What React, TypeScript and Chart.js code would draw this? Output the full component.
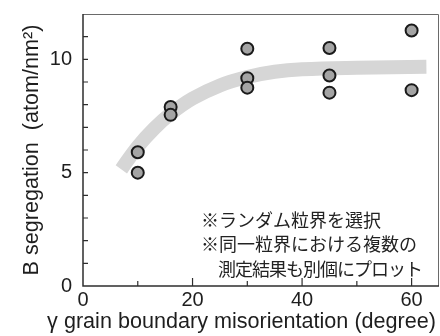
import { useEffect, useRef } from 'react';
import { Chart, registerables } from 'chart.js';

Chart.register(...registerables);

// Measured points (misorientation angle in degrees, B segregation in atom/nm²)
const angleDeg = [10, 10, 16, 16, 30, 30, 30, 45, 45, 45, 60, 60];
const segregation = [5.9, 5.0, 7.9, 7.55, 10.47, 9.17, 8.75, 10.5, 9.29, 8.53, 11.27, 8.64];

// Hand-drawn grey guide band
const trendAngle = [7, 10, 13, 16, 20, 25, 30, 35, 40, 50, 62.7];
const trendValue = [5.15, 6.15, 6.95, 7.6, 8.27, 8.85, 9.22, 9.45, 9.56, 9.63, 9.67];

const xTickLabels = [0, 20, 40, 60];
const yTickLabels = [0, 5, 10];

const xTitle = 'γ grain boundary misorientation (degree)';
const yTitle = 'B segregation  (atom/nm²)';
const noteLines = ['※ランダム粒界を選択', '※同一粒界における複数の', '　測定結果も別個にプロット'];

const LATIN = "'Liberation Sans', Arial, Helvetica, sans-serif";
const CJK = "'Noto Sans CJK JP', 'Noto Sans CJK SC', sans-serif";

const framePlugin = {
  id: 'frameTicks',
  beforeDatasetsDraw(chart: any) {
    const { ctx, chartArea: a, scales } = chart;
    const x = scales.x;
    const y = scales.y;
    ctx.save();
    // top & right frame
    ctx.strokeStyle = '#6a6a6a';
    ctx.lineWidth = 1;
    ctx.beginPath();
    ctx.moveTo(a.left, a.top + 0.5);
    ctx.lineTo(a.right - 0.5, a.top + 0.5);
    ctx.lineTo(a.right - 0.5, a.bottom);
    ctx.stroke();
    // left & bottom axes
    ctx.strokeStyle = '#2e2e2e';
    ctx.lineWidth = 1.5;
    ctx.beginPath();
    ctx.moveTo(a.left, a.top);
    ctx.lineTo(a.left, a.bottom);
    ctx.lineTo(a.right, a.bottom);
    ctx.stroke();
    // inward tick marks
    ctx.lineWidth = 1.2;
    ctx.beginPath();
    x.ticks.forEach((t: any) => {
      const v = t.value;
      if (v <= 0 || v % 10 !== 0) return;
      const px = x.getPixelForValue(v);
      const len = v % 20 === 0 ? 8 : 5;
      ctx.moveTo(px, a.bottom);
      ctx.lineTo(px, a.bottom - len);
    });
    y.ticks.forEach((t: any) => {
      const v = t.value;
      if (v <= 0 || v >= 12) return;
      const py = y.getPixelForValue(v);
      ctx.moveTo(a.left, py);
      ctx.lineTo(a.left + 5, py);
    });
    ctx.stroke();
    ctx.restore();
  },
  afterDraw(chart: any) {
    const { ctx, chartArea: a } = chart;
    ctx.save();
    ctx.fillStyle = '#222';
    // note text
    ctx.font = `18px ${CJK}`;
    ctx.textAlign = 'left';
    ctx.textBaseline = 'middle';
    noteLines.forEach((line, i) => {
      (ctx as any).letterSpacing = i === 2 ? '-1px' : '0px';
      ctx.fillText(line, 201, 220 + i * 24.5);
    });
    (ctx as any).letterSpacing = '0px';
    // axis titles
    ctx.fillStyle = '#1e1e1e';
    ctx.font = `21.6px ${LATIN}`;
    ctx.textAlign = 'right';
    ctx.textBaseline = 'alphabetic';
    ctx.fillText(xTitle, 436, 328);
    ctx.translate(38, (a.top + a.bottom) / 2);
    ctx.rotate(-Math.PI / 2);
    ctx.textAlign = 'center';
    ctx.fillText(yTitle, 0, 0);
    ctx.restore();
  },
};

export default function App() {
  const ref = useRef<HTMLCanvasElement | null>(null);

  useEffect(() => {
    document.body.style.margin = '0';
    const canvas = ref.current;
    if (!canvas) return;
    const chart = new Chart(canvas, {
      type: 'scatter',
      data: {
        datasets: [
          {
            type: 'line',
            data: trendAngle.map((v, i) => ({ x: v, y: trendValue[i] })),
            borderColor: '#d6d6d6',
            borderWidth: 14,
            borderCapStyle: 'butt',
            pointRadius: 0,
            tension: 0.4,
            fill: false,
            order: 2,
          } as any,
          {
            data: angleDeg.map((v, i) => ({ x: v, y: segregation[i] })),
            pointRadius: 6,
            pointBackgroundColor: '#a4a4a4',
            pointBorderColor: '#1a1a1a',
            pointBorderWidth: 2,
            showLine: false,
            order: 1,
          },
        ],
      },
      options: {
        responsive: false,
        animation: false,
        layout: { autoPadding: false, padding: { top: 14, right: 1, left: 0, bottom: 0 } },
        plugins: { legend: { display: false }, tooltip: { enabled: false } },
        scales: {
          x: {
            type: 'linear',
            min: 0,
            max: 65,
            grid: { display: false, drawTicks: false },
            border: { display: false },
            ticks: {
              stepSize: 10,
              autoSkip: false,
              maxRotation: 0,
              includeBounds: false,
              padding: 2,
              color: '#1e1e1e',
              font: { family: LATIN, size: 20 },
              callback: (v: any) => (xTickLabels.includes(Number(v)) ? String(v) : ''),
            },
            afterFit: (s: any) => {
              s.height = 50;
              s.paddingLeft = 0;
              s.paddingRight = 0;
              s.paddingTop = 0;
              s.paddingBottom = 0;
            },
          },
          y: {
            type: 'linear',
            min: 0,
            max: 12,
            grid: { display: false, drawTicks: false },
            border: { display: false },
            ticks: {
              stepSize: 1,
              autoSkip: false,
              padding: 11,
              color: '#1e1e1e',
              font: { family: LATIN, size: 20, lineHeight: 1 },
              callback: (v: any) => (yTickLabels.includes(Number(v)) ? String(v) : ''),
            },
            afterFit: (s: any) => {
              s.width = 83;
              s.paddingLeft = 0;
              s.paddingRight = 0;
              s.paddingTop = 0;
              s.paddingBottom = 0;
            },
          },
        },
      },
      plugins: [framePlugin],
    });
    return () => chart.destroy();
  }, []);

  return <canvas ref={ref} width={440} height={336} style={{ display: 'block' }} />;
}
